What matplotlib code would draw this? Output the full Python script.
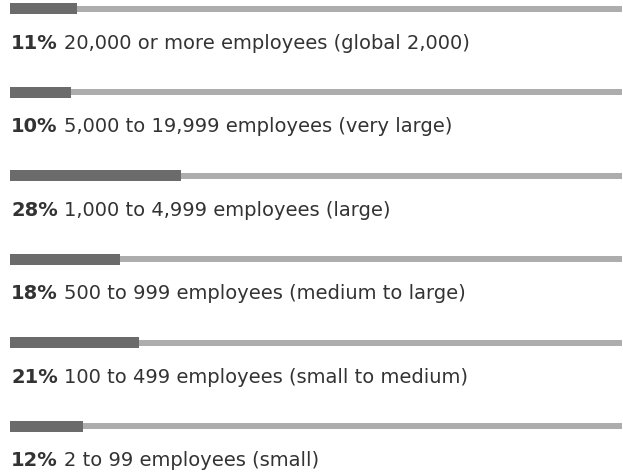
import matplotlib
matplotlib.use("Agg")
import matplotlib.pyplot as plt

# ─── data ─────────────────────────────────────────────────────────────────────
shares = [11, 10, 28, 18, 21, 12]
labels = [
    "20,000 or more employees (global 2,000)",
    "5,000 to 19,999 employees (very large)",
    "1,000 to 4,999 employees (large)",
    "500 to 999 employees (medium to large)",
    "100 to 499 employees (small to medium)",
    "2 to 99 employees (small)",
]

W, H = 623, 477
DARK, LIGHT, TEXT = "#6b6b6b", "#adadad", "#333333"
ROW0, STEP, BASE_OFF = 9.5, 83.5, 39.5
FONT, SIZE = "DejaVu Sans", 14

fig = plt.figure(figsize=(W / 100, H / 100), dpi=100)
ax = fig.add_axes([10 / W, 0, 612 / W, 1])
ax.set_xlim(0, 100)
ax.set_ylim(H, 0)
ax.axis("off")

ys = [ROW0 + i * STEP for i in range(len(shares))]
ax.barh(ys, [100] * len(ys), height=6, color=LIGHT, linewidth=0)
ax.barh(ys, shares, height=11, color=DARK, linewidth=0)

fig.canvas.draw()
r = fig.canvas.get_renderer()
for y, s, lab in zip(ys, shares, labels):
    t = ax.text(0.2, y + BASE_OFF, f"{s}%", fontsize=SIZE, fontweight="bold",
                family=FONT, color=TEXT, va="baseline", ha="left")
    bb = t.get_window_extent(renderer=r)
    x1 = ax.transData.inverted().transform((bb.x1 + 6, 0))[0]
    ax.text(x1, y + BASE_OFF, lab, fontsize=SIZE, family=FONT,
            color=TEXT, va="baseline", ha="left")

fig.savefig("out.png", dpi=100)
